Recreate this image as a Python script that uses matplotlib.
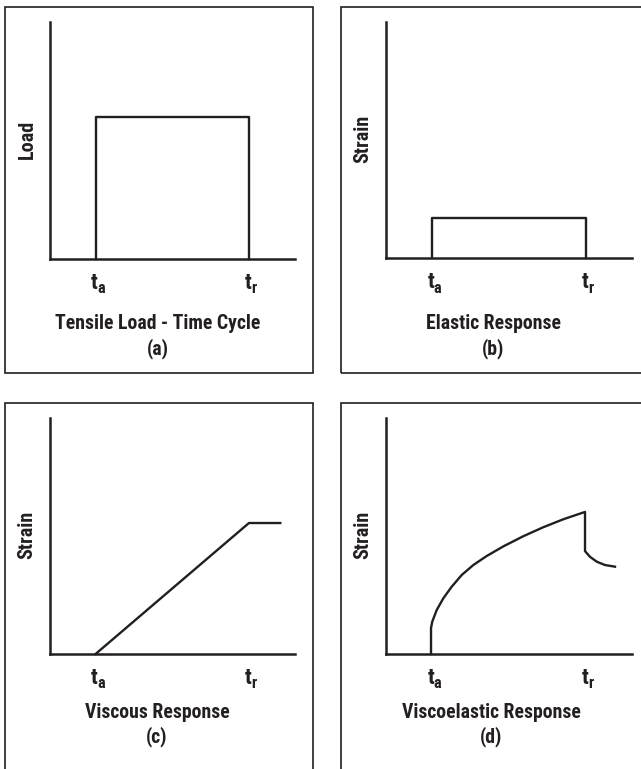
import matplotlib.pyplot as plt
from matplotlib.patches import Rectangle

plt.rcParams['font.family'] = ['Roboto Condensed', 'Archivo Narrow',
                               'PT Sans Narrow', 'Liberation Sans Narrow',
                               'DejaVu Sans']

# -----------------------
# Data (time axis 0-10, response axis 0-10)
# -----------------------

t_a = 1.86
t_r = 8.12

load_t = [t_a, t_a, t_r, t_r]
load_v = [0, 6.0, 6.0, 0]

elastic_t = [t_a, t_a, t_r, t_r]
elastic_v = [0, 1.7, 1.7, 0]

viscous_t = [t_a, t_r, 9.4]
viscous_v = [0, 5.55, 5.55]

visco_t = [1.83, 1.83, 1.88, 2.06, 2.33, 2.67, 3.08, 3.55, 4.09, 4.77,
           5.58, 6.39, 7.21, 8.09, 8.09, 8.29, 8.57, 8.90, 9.31]
visco_v = [0, 1.10, 1.37, 1.86, 2.36, 2.85, 3.35, 3.77, 4.15, 4.56,
           4.99, 5.37, 5.71, 6.02, 4.36, 4.12, 3.91, 3.77, 3.70]

panels = [
    ("Load", "Tensile Load - Time Cycle", "(a)", load_t, load_v),
    ("Strain", "Elastic Response", "(b)", elastic_t, elastic_v),
    ("Strain", "Viscous Response", "(c)", viscous_t, viscous_v),
    ("Strain", "Viscoelastic Response", "(d)", visco_t, visco_v),
]

# -----------------------
# Layout in pixels
# -----------------------

W, H = 641, 769
INK = "#231f20"
fig = plt.figure(figsize=(W / 100, H / 100), dpi=100)

# axes boxes: left, right, top, bottom (pixels)
ax_px = [(50, 295, 22, 259), (386, 632, 22, 258),
         (50, 295, 418, 654), (386, 632, 418, 654)]
# frame boxes: left, top, right, bottom (pixels)
box_px = [(5, 7, 313, 373), (341, 7, 660, 373),
          (5, 403, 313, 800), (341, 403, 660, 800)]
title_cx = [158, 493, 157, 491]
title_y = [324, 324, 712, 712]


def fx(x):
    return x / W


def fy(y):
    return 1 - y / H


for i, (ylab, title, tag, xs, ys) in enumerate(panels):
    l, r, t, b = ax_px[i]
    ax = fig.add_axes([fx(l), fy(b), (r - l) / W, (b - t) / H])
    ax.set_xlim(0, 10)
    ax.set_ylim(0, 10)
    ax.plot(xs, ys, color=INK, lw=1.7, solid_joinstyle="round",
            clip_on=False)
    for s in ["top", "right"]:
        ax.spines[s].set_visible(False)
    for s in ["left", "bottom"]:
        ax.spines[s].set_linewidth(1.8)
        ax.spines[s].set_color(INK)
    ax.set_xticks([])
    ax.set_yticks([])
    ax.patch.set_alpha(0)

    # frame
    bl, bt, br, bb = box_px[i]
    fig.add_artist(Rectangle((fx(bl), fy(bb)), (br - bl) / W, (bb - bt) / H,
                             transform=fig.transFigure, fill=False,
                             lw=1.2, edgecolor=INK))

    # labels
    fig.text(fx(l - 23), fy((t + b) / 2 - 1), ylab, rotation=90,
             ha="center", va="center", fontsize=14.5, fontweight="bold",
             color=INK)
    for tv, sub in [(t_a, "a"), (t_r, "r")]:
        ax.annotate("t", (tv, 0), xytext=(-1, -24), textcoords="offset pixels",
                    ha="center", va="center", fontsize=16,
                    fontweight="bold", color=INK, annotation_clip=False)
        ax.annotate(sub, (tv, 0), xytext=(2, -30), textcoords="offset pixels",
                    ha="left", va="center", fontsize=11.5,
                    fontweight="bold", color=INK, annotation_clip=False)
    fig.text(fx(title_cx[i]), fy(title_y[i]), title, ha="center",
             va="center", fontsize=14.2, fontweight="bold", color=INK)
    fig.text(fx(title_cx[i]), fy(title_y[i] + 25), tag, ha="center",
             va="center", fontsize=14.2, fontweight="bold", color=INK)

fig.savefig("out.png", dpi=100)
